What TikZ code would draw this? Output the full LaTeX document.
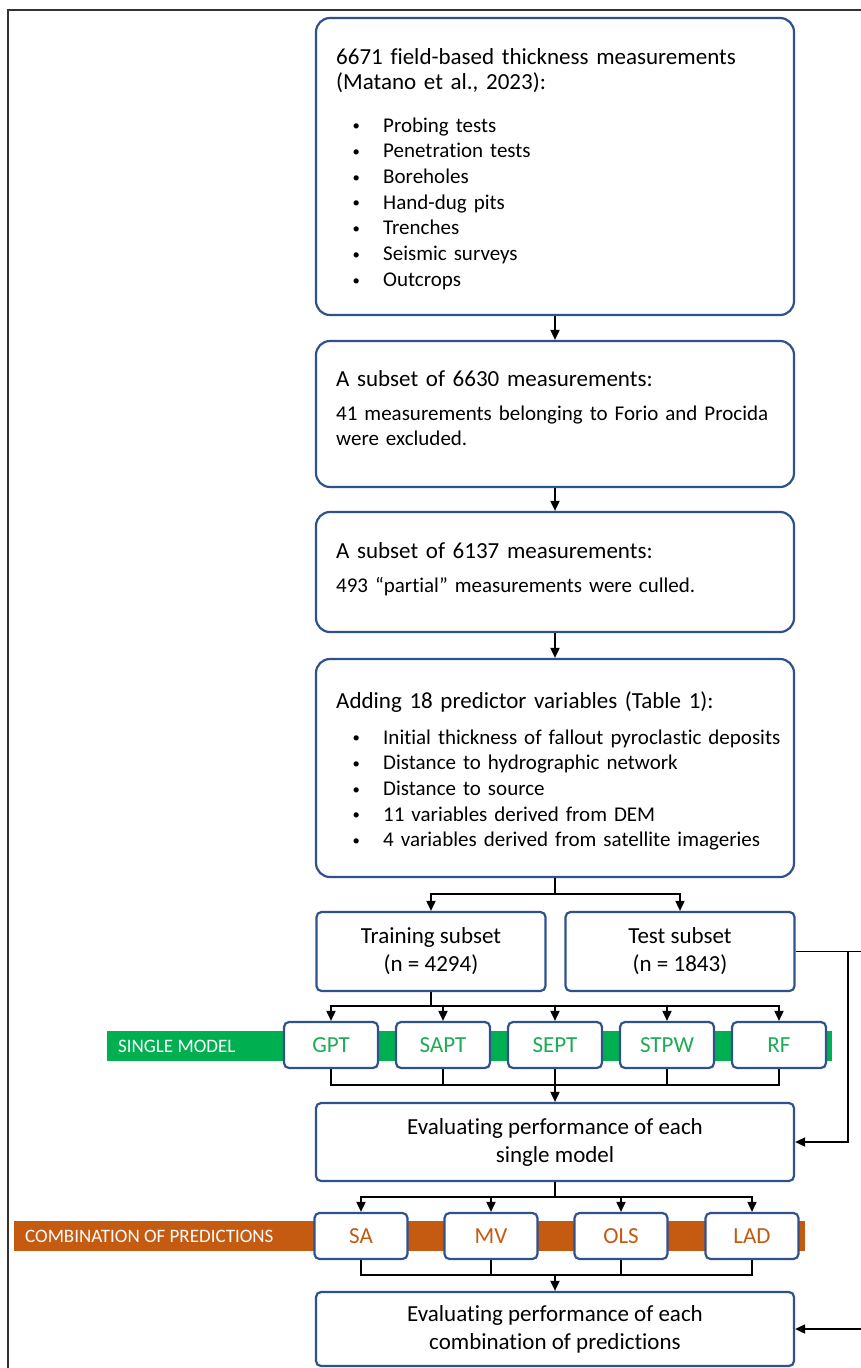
\documentclass[tikz,border=0pt]{standalone}
\usepackage{fontspec}
\setmainfont{Carlito}[Ligatures=NoCommon]
\usetikzlibrary{arrows.meta}
\definecolor{boxblue}{HTML}{2F528F}
\definecolor{bargreen}{HTML}{00B050}
\definecolor{barorange}{HTML}{C55A11}
\definecolor{txtgreen}{HTML}{1FAA55}
\newcommand\hdfont{\fontsize{23}{25}\selectfont}
\newcommand\bdfont{\fontsize{21}{25.7}\selectfont}
\newcommand\bitem[1]{\makebox[47pt][l]{\hspace{16.5pt}\raisebox{1.2pt}{\scalebox{0.7}{\textbullet}}}#1}
\begin{document}
\begin{tikzpicture}[x=1pt,y=-1pt,
  bigbox/.style={draw=boxblue,line width=2.2pt,rounded corners=14pt,fill=white,minimum width=478pt,inner sep=0pt},
  smallbox/.style={draw=boxblue,line width=2.2pt,rounded corners=5pt,fill=white,inner sep=0pt,align=center,font=\fontsize{23}{28}\selectfont},
  modelbox/.style={smallbox,minimum width=94pt,minimum height=46pt,text=txtgreen},
  combobox/.style={smallbox,minimum width=93pt,minimum height=46pt,text=barorange},
  hdtext/.style={anchor=base west,inner sep=0pt,text width=445pt,align=left,font=\hdfont},
  bdtext/.style={anchor=base west,inner sep=0pt,text width=445pt,align=left,font=\bdfont},
  barlabel/.style={anchor=west,inner sep=0pt,text=white,font=\fontsize{19}{22}\selectfont},
  conn/.style={line width=1.8pt,black},
  arr/.style={conn,-{Triangle[length=10pt,width=9pt]}}
]
\useasboundingbox (0,0) rectangle (861,1368);
\fill[white] (0,0) rectangle (861,1368);
% outer frame
\draw[line width=2pt,black!80] (8,1368) -- (8,10) -- (861,10);

% coloured bands
\fill[bargreen] (107,1031) rectangle (832,1061);
\fill[barorange] (14,1221) rectangle (805,1251);
\node[barlabel] (lsingle) at (118,1046) {SINGLE MODEL};
\node[barlabel] (lcomb) at (25,1236) {COMBINATION OF PREDICTIONS};

% main boxes
\node[bigbox,minimum height=297pt] (b1) at (555,166.5) {};
\node[hdtext] (b1h) at (336,64) {6671 field-based thickness measurements\\(Matano et al., 2023):};
\node[bdtext] (b1l) at (336,132) {\bitem{Probing tests}\\\bitem{Penetration tests}\\\bitem{Boreholes}\\\bitem{Hand-dug pits}\\\bitem{Trenches}\\\bitem{Seismic surveys}\\\bitem{Outcrops}};

\node[bigbox,minimum height=146pt] (b2) at (555,414) {};
\node[hdtext] (b2h) at (336,386) {A subset of 6630 measurements:};
\node[bdtext] (b2l) at (336,420) {\makebox[441pt][s]{41 measurements belonging to Forio and Procida}\\were excluded.};

\node[bigbox,minimum height=120pt] (b3) at (555,572) {};
\node[hdtext] (b3h) at (336,558) {A subset of 6137 measurements:};
\node[bdtext] (b3l) at (336,592) {493 “partial” measurements were culled.};

\node[bigbox,minimum height=218pt] (b4) at (555,768) {};
\node[hdtext] (b4h) at (336,708) {Adding 18 predictor variables (Table 1):};
\node[bdtext] (b4l) at (336,744) {\bitem{Initial thickness of fallout pyroclastic deposits}\\\bitem{Distance to hydrographic network}\\\bitem{Distance to source}\\\bitem{11 variables derived from DEM}\\\bitem{4 variables derived from satellite imageries}};

\node[smallbox,minimum width=229pt,minimum height=79pt] (tr) at (431,951.5) {Training subset\\(n = 4294)};
\node[smallbox,minimum width=229pt,minimum height=79pt] (te) at (680,951.5) {Test subset\\(n = 1843)};

\node[modelbox] (gpt) at (331,1045) {GPT};
\node[modelbox] (sapt) at (443,1045) {SAPT};
\node[modelbox] (sept) at (555,1045) {SEPT};
\node[modelbox] (stpw) at (667,1045) {STPW};
\node[modelbox] (rf) at (779,1045) {RF};

\node[smallbox,minimum width=478pt,minimum height=78pt] (ev1) at (555,1142) {Evaluating performance of each\\single model};

\node[combobox] (sa) at (361,1236) {SA};
\node[combobox] (mv) at (491,1236) {MV};
\node[combobox] (ols) at (621,1236) {OLS};
\node[combobox] (lad) at (752,1236) {LAD};

\node[smallbox,minimum width=478pt,minimum height=74pt] (ev2) at (555,1329) {Evaluating performance of each\\combination of predictions};

% junction coordinates
\coordinate (s1) at (555,894);
\coordinate (s2) at (431,1006);
\coordinate (m1) at (555,1085);
\coordinate (s3) at (555,1197);
\coordinate (m2) at (555,1275);
\coordinate (edgeA) at (861,951.5);
\coordinate (jct) at (848,951.5);
\coordinate (edgeB) at (861,1329);

% connectors
\draw[arr] (b1) -- (b2);
\draw[arr] (b2) -- (b3);
\draw[arr] (b3) -- (b4);
\draw[conn] (b4.south) -- (s1);
\draw[arr] (s1) -| (tr.north);
\draw[arr] (s1) -| (te.north);
\draw[conn] (tr.south) -- (s2);
\foreach \m in {gpt,sapt,sept,stpw,rf}{
  \draw[arr] (s2) -| (\m.north);
  \draw[conn] (\m.south) |- (m1);
}
\draw[arr] (m1) -- (ev1.north);
\draw[conn] (ev1.south) -- (s3);
\foreach \c in {sa,mv,ols,lad}{
  \draw[arr] (s3) -| (\c.north);
  \draw[conn] (\c.south) |- (m2);
}
\draw[arr] (m2) -- (ev2.north);
\draw[conn] (te.east) -- (edgeA);
\draw[arr] (jct) |- (ev1.east);
\draw[arr] (edgeB) -- (ev2.east);
\end{tikzpicture}
\end{document}
